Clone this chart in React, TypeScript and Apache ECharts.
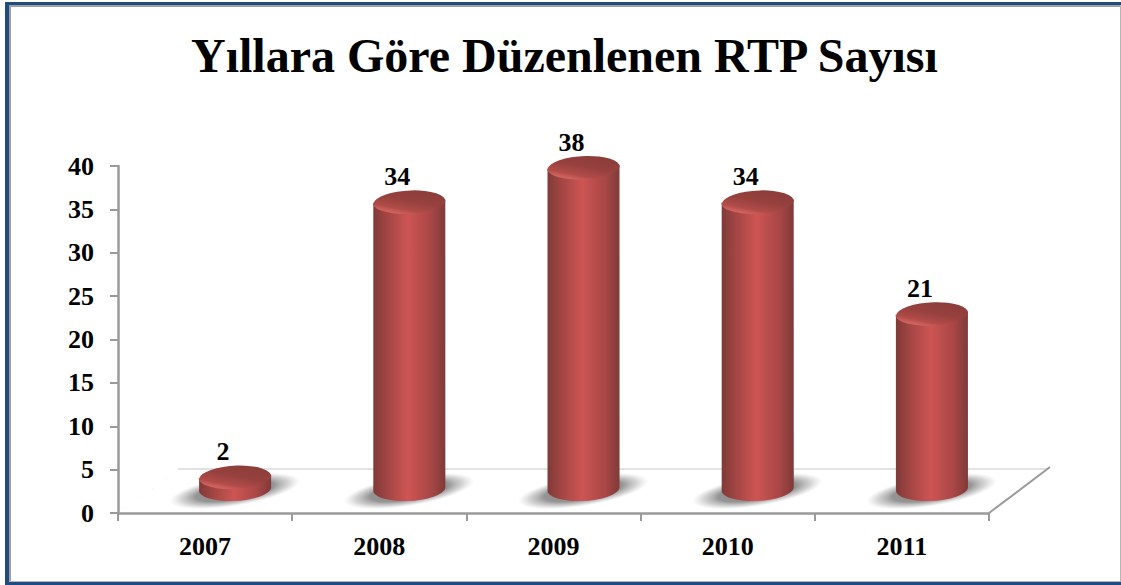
import React, { useEffect, useRef } from "react";
import * as echarts from "echarts";

const titleText = "Yıllara Göre Düzenlenen RTP Sayısı";
const years = ["2007", "2008", "2009", "2010", "2011"];
const rtpCounts = [2, 34, 38, 34, 21];
const SERIF = '"Liberation Serif", serif';

const renderCylinder = (params: any, api: any) => {
  const idx = api.value(0);
  const value = api.value(1);
  const [cx, yTop] = api.coord([idx, value]);
  const [, yZero] = api.coord([idx, 0]);
  const yBase = yZero - 6;
  const rx = 36;
  const ry = 12;
  const tilt = 2;
  const body =
    `M ${cx - rx} ${yTop + tilt} L ${cx - rx} ${yBase + tilt} ` +
    `A ${rx} ${ry} -3 0 0 ${cx + rx} ${yBase - tilt} L ${cx + rx} ${yTop - tilt} Z`;
  const top =
    `M ${cx - rx} ${yTop + tilt} A ${rx} ${ry} -3 0 1 ${cx + rx} ${yTop - tilt} ` +
    `A ${rx} ${ry} -3 0 1 ${cx - rx} ${yTop + tilt} Z`;
  return {
    type: "group",
    children: [
      {
        type: "ellipse",
        shape: { cx, cy: yBase + 3, rx: 66, ry: 15 },
        rotation: 0.16,
        originX: cx,
        originY: yBase + 3,
        style: {
          fill: new echarts.graphic.RadialGradient(0.5, 0.5, 0.5, [
            { offset: 0, color: "rgba(120,120,120,0.95)" },
            { offset: 0.6, color: "rgba(130,130,130,0.85)" },
            { offset: 0.82, color: "rgba(160,160,160,0.45)" },
            { offset: 1, color: "rgba(190,190,190,0)" },
          ]),
        },
      },
      {
        type: "path",
        shape: { pathData: body },
        style: {
          fill: new echarts.graphic.LinearGradient(0, 0, 1, 0, [
            { offset: 0, color: "#7f3a38" },
            { offset: 0.15, color: "#9b4341" },
            { offset: 0.48, color: "#cd5553" },
            { offset: 0.8, color: "#a84746" },
            { offset: 1, color: "#7f3a38" },
          ]),
        },
      },
      {
        type: "path",
        shape: { pathData: top },
        style: {
          fill: new echarts.graphic.LinearGradient(1, 0, 0.4, 1, [
            { offset: 0, color: "#883b39" },
            { offset: 0.55, color: "#97413e" },
            { offset: 0.85, color: "#b04b48" },
            { offset: 1, color: "#d0625e" },
          ]),
        },
      },
      {
        type: "text",
        style: {
          text: String(value),
          x: cx - 12,
          y: yTop - 25,
          fill: "#000",
          fontFamily: SERIF,
          fontWeight: "bold",
          fontSize: 26,
          textAlign: "center",
          textVerticalAlign: "middle",
        },
      },
    ],
  };
};

export default function App() {
  const ref = useRef<HTMLDivElement>(null);
  useEffect(() => {
    const chart = echarts.init(ref.current!, null, { renderer: "svg" });
    const axisLine = { lineStyle: { color: "#9a9a9a", width: 2.5 } };
    chart.setOption({
      animation: false,
      backgroundColor: "#fff",
      title: {
        text: titleText,
        left: 186,
        top: 26,
        textStyle: { fontFamily: SERIF, fontWeight: "bold", fontSize: 48, color: "#000" },
      },
      grid: [
        { left: 118, top: 166, width: 871, height: 347 },
        { left: 148, top: 150, width: 871, height: 344 },
      ],
      xAxis: [
        {
          type: "category",
          gridIndex: 0,
          data: years,
          axisLine,
          axisTick: { show: true, length: 8, lineStyle: { color: "#9a9a9a", width: 2 } },
          axisLabel: {
            margin: 20,
            color: "#000",
            fontFamily: SERIF,
            fontWeight: "bold",
            fontSize: 26,
          },
        },
        { type: "category", gridIndex: 1, data: years, show: false },
      ],
      yAxis: [
        {
          type: "value",
          gridIndex: 0,
          min: 0,
          max: 40,
          interval: 5,
          splitLine: { show: false },
          axisLine: { show: true, ...axisLine },
          axisTick: { show: true, length: 8, lineStyle: { color: "#9a9a9a", width: 2 } },
          axisLabel: {
            margin: 24,
            color: "#000",
            fontFamily: SERIF,
            fontWeight: "bold",
            fontSize: 26,
          },
        },
        { type: "value", gridIndex: 1, min: 0, max: 40, interval: 5, show: false },
      ],
      series: [
        {
          type: "custom",
          xAxisIndex: 1,
          yAxisIndex: 1,
          clip: false,
          encode: { x: 0, y: 1 },
          data: rtpCounts.map((v, i) => [i, v]),
          renderItem: renderCylinder,
          z: 5,
        },
      ],
      graphic: [
        { type: "rect", silent: true, z: 10, shape: { x: 5, y: 2, width: 1116, height: 3 }, style: { fill: "#1f4a82" } },
        { type: "rect", silent: true, z: 10, shape: { x: 9, y: 5, width: 1112, height: 2 }, style: { fill: "#a0a0a0" } },
        { type: "rect", silent: true, z: 10, shape: { x: 5, y: 2, width: 4, height: 583 }, style: { fill: "#1f4a82" } },
        { type: "rect", silent: true, z: 10, shape: { x: 9, y: 5, width: 2, height: 577 }, style: { fill: "#a0a0a0" } },
        { type: "rect", silent: true, z: 10, shape: { x: 1120, y: 5, width: 1, height: 577 }, style: { fill: "#b5b5b5" } },
        { type: "rect", silent: true, z: 10, shape: { x: 9, y: 581, width: 1112, height: 1 }, style: { fill: "#b5b5b5" } },
        { type: "rect", silent: true, z: 10, shape: { x: 5, y: 582, width: 1116, height: 3 }, style: { fill: "#1f4a82" } },
        { type: "line", silent: true, z: 1, shape: { x1: 178, y1: 469, x2: 1048, y2: 469 }, style: { stroke: "#e2e2e2", lineWidth: 2 } },
        { type: "line", silent: true, z: 1, shape: { x1: 989, y1: 513, x2: 1050, y2: 467 }, style: { stroke: "#9a9a9a", lineWidth: 2 } },
        { type: "line", silent: true, z: 1, shape: { x1: 125, y1: 509, x2: 176, y2: 471 }, style: { stroke: "#ececec", lineWidth: 1, lineDash: [1, 16] } },
      ],
    });
    return () => chart.dispose();
  }, []);
  return <div ref={ref} style={{ position: "absolute", left: 0, top: 0, width: 1121, height: 585 }} />;
}
